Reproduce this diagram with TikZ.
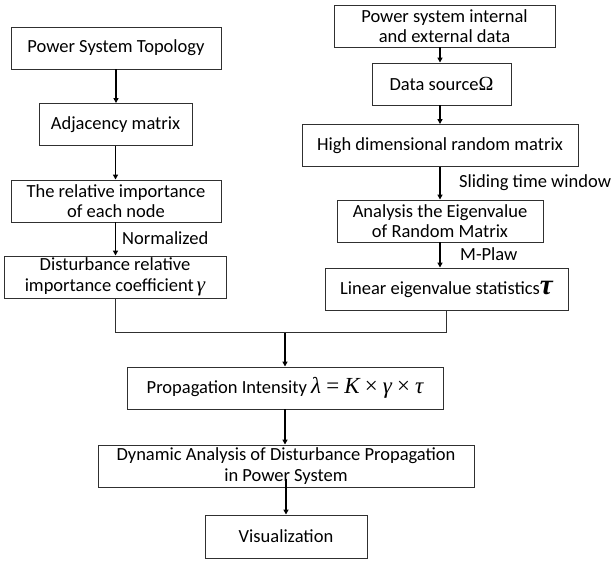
\documentclass[tikz,border=0pt]{standalone}
\usepackage{fontspec}
\setmainfont{Carlito}
\newfontfamily\tms{Liberation Serif}
\usetikzlibrary{arrows.meta,calc}
\definecolor{boxc}{HTML}{303030}
\begin{document}
\begin{tikzpicture}[x=1pt,y=-1pt,
  fbox/.style={draw=boxc, line width=0.9pt, minimum height=42pt, inner sep=0pt, align=center,
    font=\fontsize{18.5}{20.5}\selectfont},
  arr/.style={draw=black, line width=1.5pt, -{Triangle[length=5pt,width=5pt]}},
  conn/.style={draw=boxc, line width=1pt},
  lbl/.style={inner sep=0pt, anchor=west, font=\fontsize{18.5}{20.5}\selectfont}]
\useasboundingbox (0,0) rectangle (614,561);
% left column
\node[fbox, minimum width=210pt] (topo) at (116,48) {Power System Topology};
\node[fbox, minimum width=153pt] (adj) at (115.5,124.5) {Adjacency matrix};
\node[fbox, minimum width=210pt] (rel) at (116,201) {The relative importance\\of each node};
\node[fbox, minimum width=222pt] (dist) at (115,277) {Disturbance relative\\importance coefficient\,{\tms\itshape\fontsize{21}{21}\selectfont γ}};
% right column
\node[fbox, minimum width=221pt] (ext) at (444.5,26) {Power system internal\\and external data};
\node[fbox, minimum width=139pt] (src) at (441.5,84) {Data source{\tms\fontsize{20}{20}\selectfont Ω}};
\node[fbox, minimum width=276pt] (high) at (440,145.5) {High dimensional random matrix};
\node[fbox, minimum width=206pt] (ana) at (440,221) {Analysis the Eigenvalue\\of Random Matrix};
\node[fbox, minimum width=243pt] (lin) at (446.5,289) {Linear eigenvalue statistics{\tms\bfseries\itshape\fontsize{29}{29}\selectfont τ}};
% center column
\node[fbox, minimum width=316pt] (prop) at (285,388) {Propagation Intensity {\tms\itshape\fontsize{23}{23}\selectfont λ\,=\,K\,×\,γ\,×\,τ}};
\node[fbox, minimum width=376pt] (dyn) at (286,466) {Dynamic Analysis of Disturbance Propagation\\in Power System};
\node[fbox, minimum width=162pt, minimum height=43pt] (vis) at (286,536.5) {Visualization};
% labels
\node[lbl] (nrm) at (122,238) {Normalized};
\node[lbl] (slw) at (459,183) {Sliding time window};
\node[lbl] (mpl) at (460,254) {M-Plaw};
% arrows left
\draw[arr] (topo.south) -- (topo.south |- adj.north);
\draw[arr] (adj.south) -- (adj.south |- rel.north);
\draw[arr] (rel.south -| adj.south) -- (dist.north -| adj.south);
% arrows right
\draw[arr] (ext.south -| high) -- (src.north -| high);
\draw[arr] (src.south -| high) -- (high.north);
\draw[arr] (high.south) -- (ana.north);
\draw[arr] (ana.south) -- (lin.north -| ana);
% junction
\coordinate (j) at (prop.north |- 0,333);
\draw[conn] (dist.south) |- (j);
\draw[conn] (lin.south) |- (j);
\draw[arr] (j) -- (prop.north);
\draw[arr] (prop.south) -- (prop.south |- dyn.north);
\draw[arr] ($(dyn.south)+(0,-8)$) -- (vis.north);
\end{tikzpicture}
\end{document}
